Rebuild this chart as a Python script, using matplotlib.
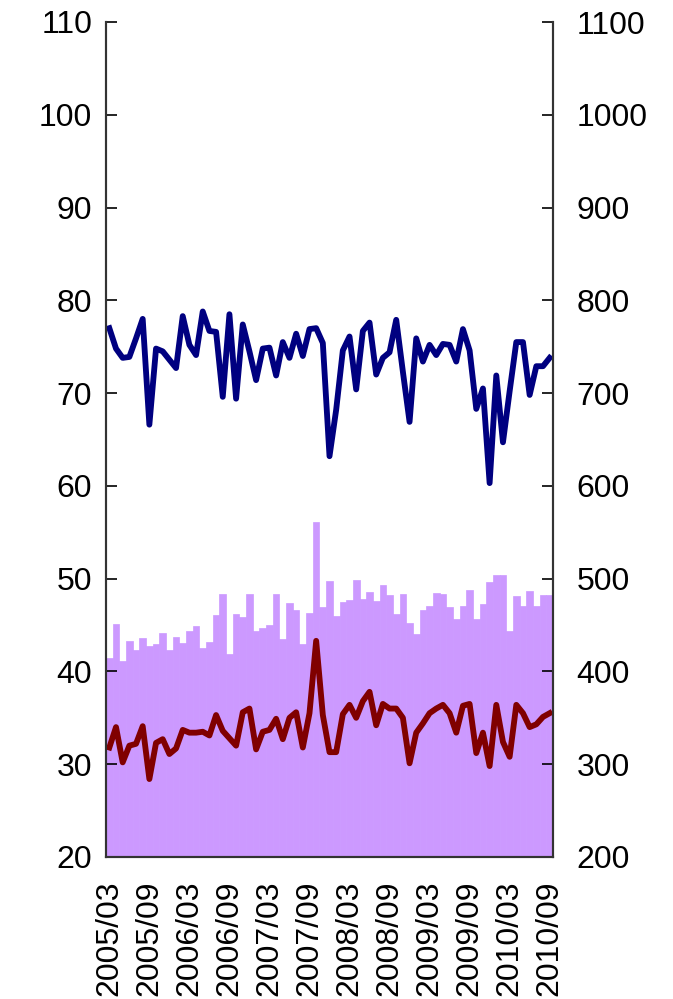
import matplotlib
matplotlib.use("Agg")
import matplotlib.pyplot as plt
import matplotlib.transforms as mtransforms
import numpy as np

plt.rcParams['font.family'] = ['Liberation Sans', 'DejaVu Sans']

months = [f"{2005 + (2 + i) // 12}/{(2 + i) % 12 + 1:02d}" for i in range(67)]
tick_labels = ["2005/03", "2005/09", "2006/03", "2006/09", "2007/03", "2007/09",
               "2008/03", "2008/09", "2009/03", "2009/09", "2010/03", "2010/09"]

bars_right = [414, 451, 411, 433, 423, 436, 427, 430, 441, 423,
              437, 431, 444, 449, 425, 432, 461, 483, 419, 462,
              459, 484, 444, 447, 450, 484, 435, 474, 466, 430,
              463, 561, 469, 497, 460, 475, 477, 499, 478, 486,
              476, 493, 482, 462, 484, 452, 440, 466, 471, 485,
              483, 469, 456, 471, 488, 457, 473, 496, 504, 504,
              444, 481, 470, 487, 471, 482, 482]

blue_line = [77.0, 74.8, 73.8, 73.9, 75.9, 78.0, 66.6, 74.8, 74.5, 73.6,
             72.7, 78.3, 75.2, 74.1, 78.8, 76.7, 76.6, 69.6, 78.5, 69.4,
             77.4, 74.5, 71.4, 74.8, 74.9, 71.9, 75.5, 73.8, 76.4, 74.0,
             76.9, 77.0, 75.4, 63.2, 68.2, 74.6, 76.1, 70.4, 76.7, 77.6,
             72.0, 73.8, 74.4, 77.9, 72.3, 66.9, 75.9, 73.4, 75.2, 74.1,
             75.3, 75.2, 73.4, 76.9, 74.6, 68.3, 70.5, 60.3, 71.9, 64.7,
             70.2, 75.5, 75.5, 69.8, 72.9, 72.9, 73.8]

red_line = [31.8, 34.0, 30.2, 32.0, 32.2, 34.1, 28.4, 32.3, 32.7, 31.1,
            31.7, 33.7, 33.4, 33.4, 33.5, 33.1, 35.3, 33.6, 32.8, 32.0,
            35.6, 36.0, 31.6, 33.5, 33.7, 34.9, 32.7, 35.0, 35.6, 31.8,
            35.5, 43.3, 35.3, 31.3, 31.3, 35.4, 36.4, 35.0, 36.8, 37.8,
            34.2, 36.5, 36.0, 36.0, 35.0, 30.1, 33.4, 34.4, 35.5, 36.0,
            36.4, 35.5, 33.4, 36.3, 36.5, 31.2, 33.4, 29.8, 36.4, 32.4,
            30.8, 36.4, 35.5, 34.0, 34.3, 35.1, 35.5]

x = np.arange(len(months))

fig = plt.figure(figsize=(6.73, 9.99), dpi=100)
ax = fig.add_axes([106/673, 1 - 857/999, (553-106)/673, (857-22)/999])
ax2 = ax.twinx()

ax2.bar(x, bars_right, width=1.0, bottom=0, color='#CC99FF', edgecolor='#CC99FF',
        linewidth=0.5, align='center')
ax2.set_ylim(200, 1100)
ax2.set_yticks(np.arange(200, 1101, 100))

ax.plot(x, blue_line, color='#000080', linewidth=4.2, solid_joinstyle='round')
ax.plot(x, red_line, color='#800000', linewidth=4.2, solid_joinstyle='round')
ax.set_ylim(20, 110)
ax.set_yticks(np.arange(20, 111, 10))
ax.set_xlim(-0.5, len(months) - 0.5)

ax.set_zorder(ax2.get_zorder() + 1)
ax.patch.set_visible(False)

tick_pos = [months.index(t) for t in tick_labels]
ax.set_xticks(tick_pos)
ax.set_xticklabels(tick_labels, rotation=90, fontsize=23)
offset = mtransforms.ScaledTranslation(5/100, 0, fig.dpi_scale_trans)
for lbl in ax.get_xticklabels():
    lbl.set_transform(lbl.get_transform() + offset)

for a in (ax, ax2):
    a.spines['top'].set_visible(False)
    for s in ('left', 'right', 'bottom'):
        a.spines[s].set_color('#333333')
        a.spines[s].set_linewidth(1.5)

ax.tick_params(axis='y', direction='in', length=8, width=1.2, labelsize=23, pad=10, colors='black')
ax2.tick_params(axis='y', direction='in', length=8, width=1.2, labelsize=23, pad=17, colors='black')
ax.tick_params(axis='x', length=0, pad=17)

fig.savefig('out.png', dpi=100)
